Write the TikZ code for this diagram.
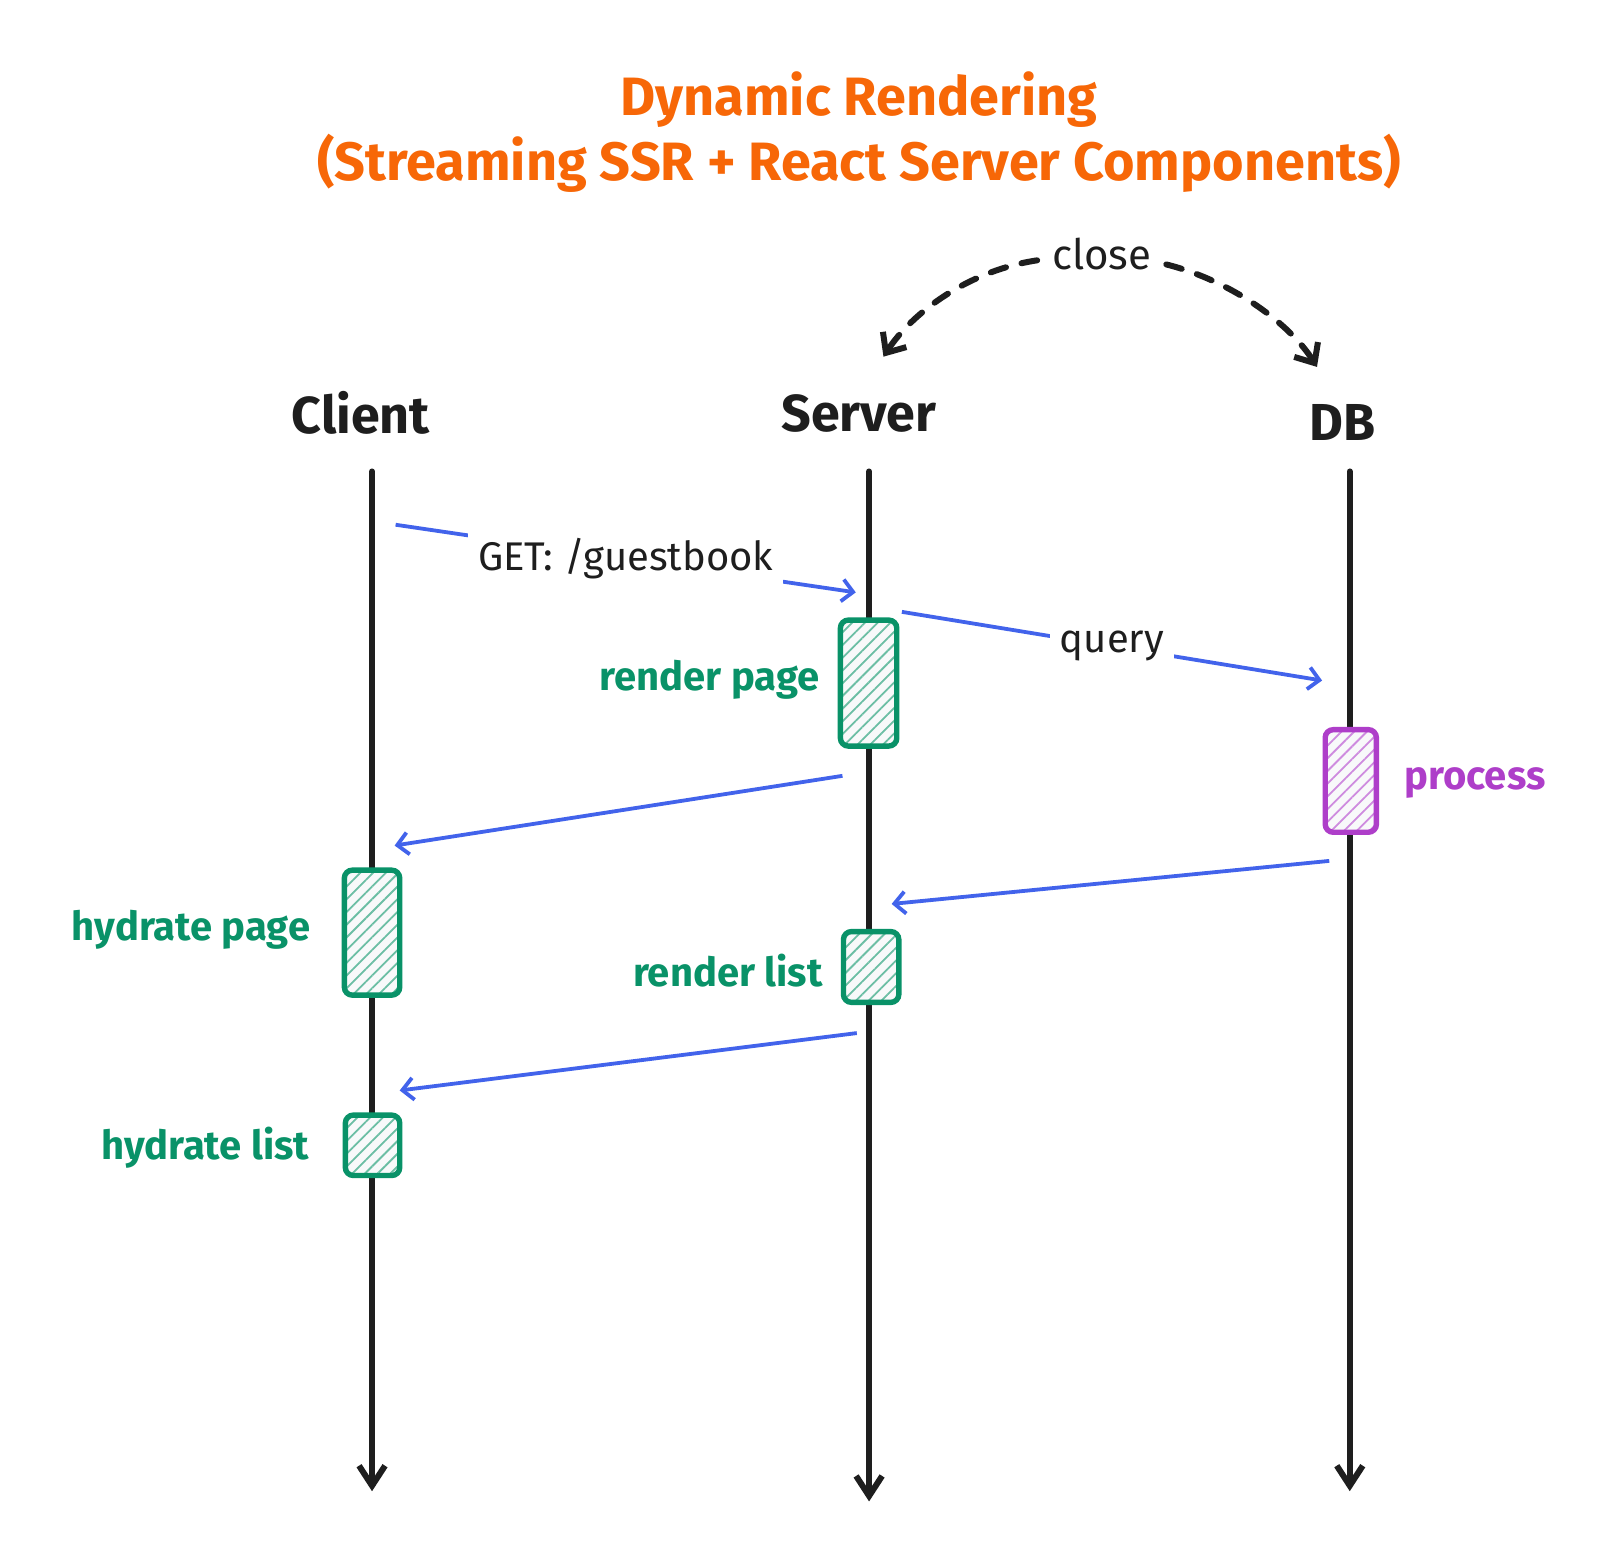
\documentclass[tikz,border=0pt]{standalone}
\usepackage{fontspec}
\setmainfont{Fira Sans}
\usetikzlibrary{arrows.meta,patterns.meta}
\definecolor{ink}{HTML}{1E1E1E}
\definecolor{ttl}{HTML}{F76707}
\definecolor{grn}{HTML}{099268}
\definecolor{blu}{HTML}{4263EB}
\definecolor{vio}{HTML}{AE3EC9}
\definecolor{boxbg}{HTML}{F8F9FA}
\begin{document}
\begin{tikzpicture}[x=0.5125pt,y=-0.5125pt,
  life/.style={ink, line width=3pt, line cap=round, -{Straight Barb[length=10pt,width=13pt,line width=3pt]}},
  closearr/.style={ink, line width=3pt, line cap=round, dash pattern=on 8pt off 8pt, -{Straight Barb[length=8pt,width=14pt,line width=3pt]}},
  msg/.style={blu, line width=1.9pt, -{Straight Barb[length=5.5pt,width=11pt,line width=1.9pt]}},
  head/.style={text=ink, font=\fontsize{26}{30}\selectfont\bfseries, inner sep=0pt},
  lbl/.style={fill=white, text=ink, font=\fontsize{20}{24}\selectfont, inner sep=5pt},
  grnlbl/.style={text=grn, font=\fontsize{20}{24}\selectfont\bfseries, inner sep=0pt},
  act/.style={draw=#1, line width=2.7pt, rounded corners=4pt, preaction={fill=boxbg},
    pattern={Lines[angle=45,distance=4.5pt,line width=0.9pt]}, pattern color=#1!60, inner sep=0pt},
]
\useasboundingbox (0,0) rectangle (1568,1526);

% title
\node[text=ttl, font=\fontsize{27}{32.5}\selectfont\bfseries, align=center] (title) at (838,129)
  {Dynamic Rendering\\(Streaming SSR + React Server Components)};

% participant heads
\node[head] (client) at (352,403) {Client};
\node[head] (server) at (838,403) {Server};
\node[head] (db) at (1310,412) {DB};

% lifelines
\coordinate (ctop) at (363,460);  \coordinate (cbot) at (363,1455);
\coordinate (stop) at (848,460);  \coordinate (sbot) at (848,1465);
\coordinate (dtop) at (1317,460); \coordinate (dbot) at (1317,1455);
\draw[life] (ctop) -- (cbot);
\draw[life] (stop) -- (sbot);
\draw[life] (dtop) -- (dbot);

% close arrows
\node[text=ink, font=\fontsize{21}{25}\selectfont, inner sep=0pt] (close) at (1075,248) {close};
\coordinate (cl1) at (1012,254); \coordinate (cl2) at (862,348);
\coordinate (cr1) at (1138,258); \coordinate (cr2) at (1285,358);
\draw[closearr] (cl1) .. controls (945,264) and (890,305) .. (cl2);
\draw[closearr] (cr1) .. controls (1205,275) and (1260,318) .. (cr2);

% activation boxes
\node[act=grn, minimum width=28.2pt, minimum height=63pt] (rp) at (847.5,666.5) {};
\node[act=vio, minimum width=25.6pt, minimum height=51.3pt] (pr) at (1318,762) {};
\node[act=grn, minimum width=27.7pt, minimum height=62.5pt] (hp) at (363,910) {};
\node[act=grn, minimum width=27.7pt, minimum height=35.4pt] (rl) at (850,943.5) {};
\node[act=grn, minimum width=27.2pt, minimum height=30.2pt] (hl) at (363.5,1117.5) {};

% box labels
\node[grnlbl, anchor=east] (rplbl) at (800,663) {render page};
\node[grnlbl, anchor=east] (hplbl) at (303,907) {hydrate page};
\node[grnlbl, anchor=east] (rllbl) at (803,947) {render list};
\node[grnlbl, anchor=east] (hllbl) at (302,1120) {hydrate list};
\node[grnlbl, anchor=west, text=vio] (prlbl) at (1370,764) {process};

% messages
\coordinate (g1) at (386,512);  \coordinate (g2) at (835,578);
\coordinate (q1) at (880,597);  \coordinate (q2) at (1290,664);
\coordinate (r1) at (822,757);  \coordinate (r2) at (385,825);
\coordinate (d1) at (1297,840); \coordinate (d2) at (870,882);
\coordinate (l1) at (836,1008); \coordinate (l2) at (390,1064);
\draw[msg] (g1) -- node[lbl] (getlbl) {GET: /guestbook} (g2);
\draw[msg] (q1) -- node[lbl] (qlbl) {query} (q2);
\draw[msg] (r1) -- (r2);
\draw[msg] (d1) -- (d2);
\draw[msg] (l1) -- (l2);
\end{tikzpicture}
\end{document}
